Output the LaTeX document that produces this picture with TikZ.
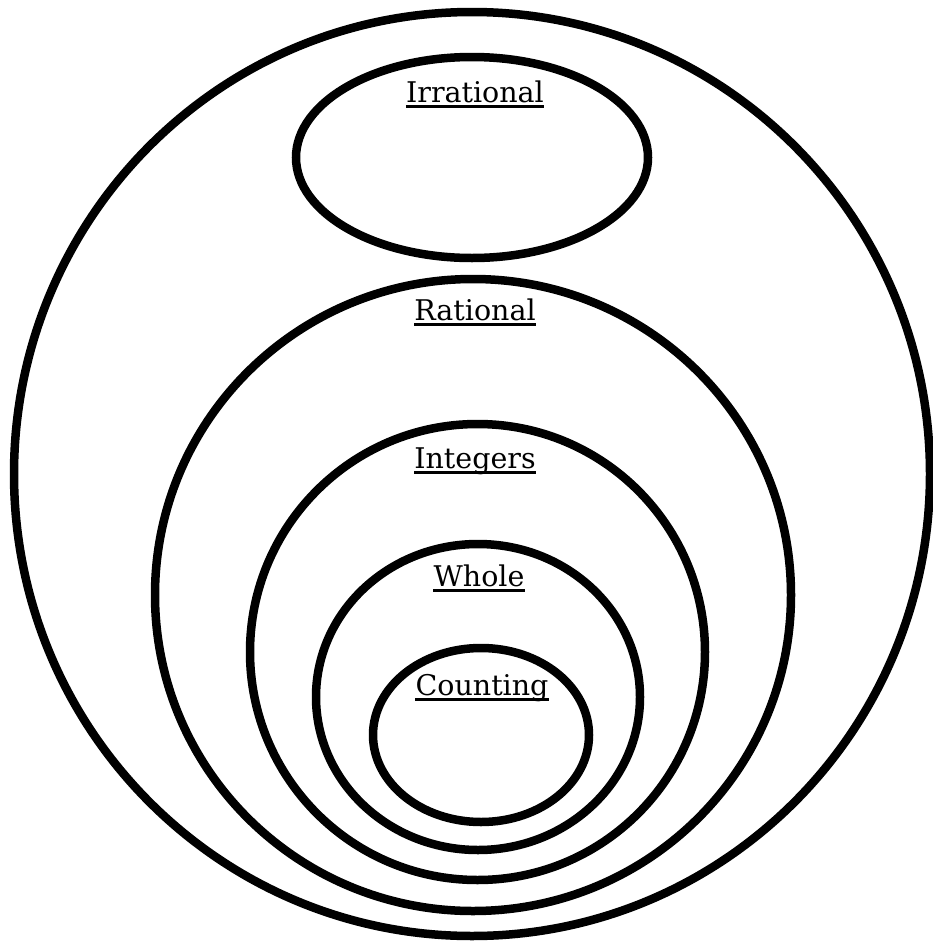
\documentclass[tikz,border=0pt]{standalone}
\usepackage{fontspec}
\setmainfont{DejaVu Serif}
\begin{document}
\begin{tikzpicture}[x=1pt,y=-1pt,
  setring/.style={line width=8.5pt, draw=black},
  setlabel/.style={inner sep=0pt, anchor=base, font=\fontsize{28.5}{34}\selectfont},
  uline/.style={line width=2.8pt}]
\useasboundingbox (0,0) rectangle (933,945);
\draw[setring] (472,474) ellipse [x radius=458pt, y radius=462pt];
\draw[setring] (472,157.5) ellipse [x radius=176pt, y radius=100.5pt];
\draw[setring] (473,595) ellipse [x radius=318pt, y radius=316pt];
\draw[setring] (477.5,652) ellipse [x radius=227.5pt, y radius=228pt];
\draw[setring] (478,697) ellipse [x radius=162pt, y radius=153pt];
\draw[setring] (481,735) ellipse [x radius=108pt, y radius=87pt];
\node[setlabel] (irr) at (475,102) {Irrational};
\node[setlabel] (rat) at (475,320) {Rational};
\node[setlabel] (int) at (475,468) {Integers};
\node[setlabel] (who) at (479,586) {Whole};
\node[setlabel] (cnt) at (482,695) {Counting};
\foreach \n in {irr,rat,int,who,cnt}{
  \draw[uline] ([yshift=-4.5pt]\n.base west) -- ([yshift=-4.5pt]\n.base east);
}
\end{tikzpicture}
\end{document}
